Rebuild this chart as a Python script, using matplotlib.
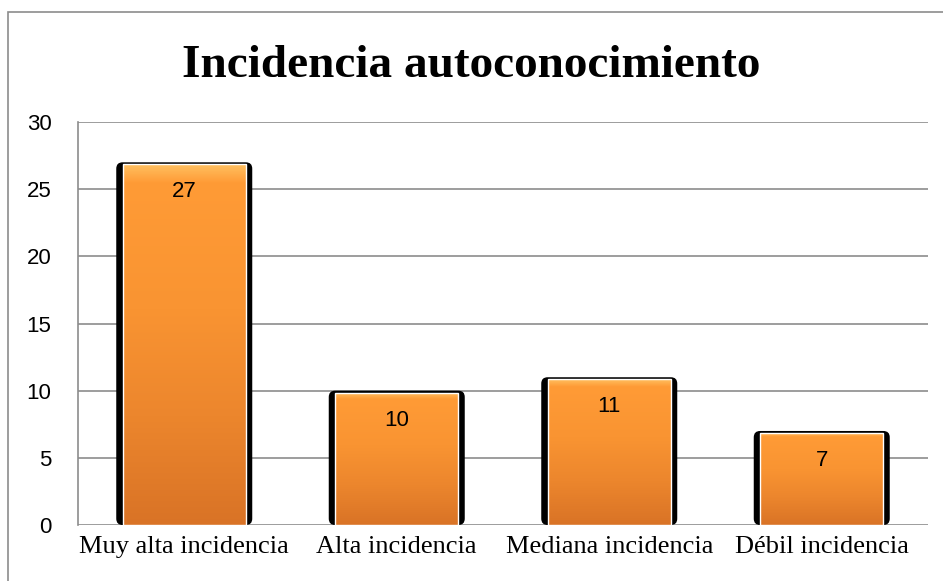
import numpy as np
import matplotlib.pyplot as plt
from matplotlib.patches import Rectangle, FancyBboxPatch
from matplotlib.colors import LinearSegmentedColormap

categories = ['Muy alta incidencia', 'Alta incidencia', 'Mediana incidencia', 'Débil incidencia']
values = [27, 10, 11, 7]
title = 'Incidencia autoconocimiento'

fig = plt.figure(figsize=(9.43, 5.81), dpi=100)
ax = fig.add_axes([78 / 943, 1 - 525 / 581, (928 - 78) / 943, (525 - 122) / 581])

# outer chart frame (clipped at right/bottom like the reference)
fig.patches.append(Rectangle((8 / 943, -0.01), 1.0, 1 - 12 / 581 + 0.01,
                             transform=fig.transFigure, fill=False,
                             edgecolor='#8c8c8c', linewidth=1.2))

ax.set_xlim(-0.5, len(categories) - 0.5)
ax.set_ylim(0, 30)
ax.set_yticks(range(0, 31, 5))
ax.yaxis.grid(True, color='#8c8c8c', linewidth=1.2)
ax.set_axisbelow(True)
for s in ['top', 'right', 'bottom']:
    ax.spines[s].set_visible(False)
ax.spines['left'].set_color('#8c8c8c')
ax.spines['left'].set_linewidth(1.2)
ax.tick_params(axis='y', length=0, labelsize=16, pad=19)
ax.tick_params(axis='x', length=0, labelsize=19, pad=8)
for lbl in ax.get_yticklabels():
    lbl.set_fontfamily('Liberation Sans')
ax.set_xticks(range(len(categories)))
ax.set_xticklabels(categories, fontfamily='Liberation Serif')

cmap = LinearSegmentedColormap.from_list(
    'org', [(0.0, '#d97326'), (0.3, '#ec862d'), (0.6, '#f99432'),
            (0.95, '#ff9b36'), (1.0, '#ffc060')])
grad = np.linspace(0, 1, 256).reshape(-1, 1)

outer_w = 0.64
inner_w = 0.58
for i, v in enumerate(values):
    # dark shadow behind the bar
    ax.add_patch(FancyBboxPatch((i - outer_w / 2, 0), outer_w, v,
                                boxstyle='round,pad=0,rounding_size=0.03',
                                mutation_aspect=30 / 403 * 850 / 4,
                                facecolor='black', edgecolor='none', zorder=2))
    bar = Rectangle((i - inner_w / 2, 0), inner_w, v - 0.15,
                    facecolor='none', edgecolor='white', linewidth=1.0, zorder=4)
    ax.add_patch(bar)
    im = ax.imshow(grad, cmap=cmap, origin='lower', aspect='auto',
                   extent=(i - inner_w / 2, i + inner_w / 2, 0, v - 0.15), zorder=3)
    im.set_clip_path(bar)
    ax.text(i, v - 2.2, str(v), ha='center', va='center', fontsize=16,
            fontfamily='Liberation Sans', color='black', zorder=5)

fig.text(0.5, 1 - 66 / 581, title, ha='center', va='center', fontsize=34,
         fontweight='bold', fontfamily='Liberation Serif')

fig.savefig('out.png', dpi=100)
